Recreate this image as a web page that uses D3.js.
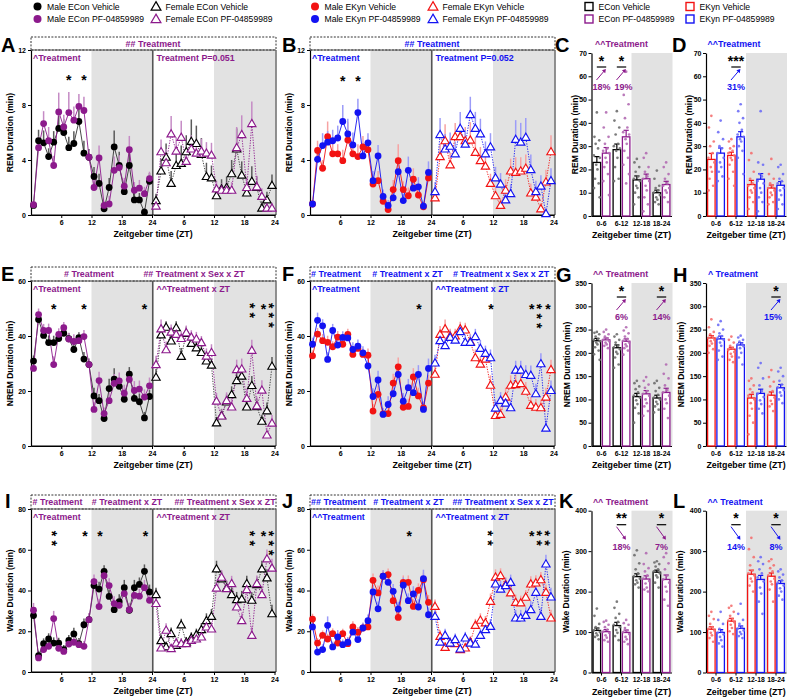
<!DOCTYPE html>
<html><head><meta charset="utf-8">
<script src="https://cdn.jsdelivr.net/npm/d3@7"></script>
<style>body{margin:0;background:#fff}</style>
</head><body><script>
// ---------------- DATA ----------------
const ZT = d3.range(24).map(i => i + 0.5);
const XTICKS = [6, 12, 18, 24];
const BAR_CATS = ["0-6", "6-12", "12-18", "18-24"];

// Panel A: REM, ECon (male circles left half, female triangles right half)
const A_MV = [0.7,5.4,5.25,4.25,5.3,6.3,6.0,4.9,5.2,6.8,4.5,4.2,2.8,2.3,0.45,2.0,4.95,3.6,1.7,3.6,1.1,1.1,0.2,2.45];
const A_MP = [0.75,4.9,6.65,5.4,3.6,7.5,6.4,7.45,6.9,7.9,7.6,4.2,2.0,4.15,0.7,0.8,3.25,3.45,2.1,4.75,1.8,1.95,1.55,2.65];
const A_FV = [1.05,3.2,4.2,2.3,3.6,3.75,4.6,5.35,5.2,4.4,2.8,2.7,1.4,1.9,2.0,3.0,4.8,2.9,1.6,2.45,2.0,0.5,1.1,2.15];
const A_FP = [0.65,4.6,3.8,5.9,4.65,5.65,3.9,4.8,4.5,4.65,4.5,4.35,1.9,1.8,1.8,1.8,4.9,5.85,2.0,6.65,2.05,1.35,0.5,0.5];
const A_MVe = [0.2,0.8,0.9,0.6,0.8,0.9,1.0,0.8,0.9,1.1,0.9,0.6,0.7,0.7,0.3,0.7,1.2,1.0,0.5,1.0,0.5,0.5,0.3,0.6];
const A_MPe = [0.2,0.8,0.9,1.0,0.7,1.4,0.9,1.5,1.0,0.9,1.0,0.5,0.6,0.9,0.3,0.6,1.0,0.9,0.6,1.0,0.6,0.6,0.5,0.5];
const A_FVe = [0.5,0.9,1.0,0.9,1.1,1.3,1.2,1.6,1.3,1.2,1.0,0.9,0.6,0.7,0.8,1.0,1.5,1.0,0.8,1.1,0.8,0.5,0.6,0.8];
const A_FPe = [0.4,0.9,1.0,1.3,1.0,1.2,0.8,1.0,1.0,0.9,0.8,0.9,0.6,0.5,0.6,0.6,1.5,1.4,0.7,1.6,0.8,0.6,0.4,0.4];

// Panel B: REM, EKyn
const B_MV = [0.8,4.7,3.4,5.7,4.45,4.45,3.95,5.45,4.45,4.25,4.95,4.75,2.25,2.5,1.0,0.4,1.85,3.95,1.85,1.4,2.6,1.45,0.6,2.7];
const B_MP = [0.8,4.05,5.05,5.3,5.4,5.6,6.8,5.9,5.1,7.45,4.3,5.25,2.5,4.3,1.35,0.7,1.25,3.15,1.05,3.25,1.95,2.05,0.65,3.1];
const B_FV = [1.25,4.25,5.4,3.65,5.7,5.7,5.4,5.45,4.55,3.95,3.55,2.3,1.4,0.7,1.8,3.2,3.1,3.2,3.4,1.6,1.3,0.45,2.4,4.6];
const B_FP = [1.7,5.85,4.8,5.0,4.45,6.3,5.15,7.3,6.3,5.9,4.45,4.95,2.7,2.25,1.1,1.55,5.5,5.3,5.65,3.3,1.7,2.1,0.1,2.5];
const B_MVe = [0.2,0.7,0.6,1.1,0.8,0.7,0.8,1.3,0.8,0.9,0.8,0.6,0.6,0.7,0.4,0.3,0.7,1.2,0.6,0.6,0.8,0.6,0.3,0.7];
const B_MPe = [0.2,0.9,0.9,0.8,0.8,0.9,1.2,1.1,0.9,1.0,0.9,0.7,0.7,0.8,0.5,0.4,0.6,1.0,0.5,1.0,0.8,0.7,0.3,0.8];
const B_FVe = [0.6,0.9,1.2,0.9,1.0,1.1,1.0,1.3,1.1,1.0,0.9,0.7,0.6,0.5,0.8,0.9,1.1,1.0,1.0,0.7,0.6,0.4,0.9,1.2];
const B_FPe = [0.7,1.2,1.1,1.0,0.9,1.2,1.0,1.3,1.2,1.1,0.9,1.0,0.8,0.8,0.6,0.7,1.4,1.4,1.4,1.1,0.8,0.8,0.3,0.9];

// Panel E: NREM, ECon
const E_MV = [30.9,46,40.2,37.6,37.6,39.1,41,39,35.1,39.4,31.6,29.6,18.2,16.5,10,20.9,24.3,21.7,17,26.1,17.3,16.1,10.2,18];
const E_MP = [28.2,47.8,42,42,29.6,40.6,43,38.9,38,38.3,39.8,29.6,13.3,23.8,11.8,16.5,22.8,23.7,19.2,24.2,20.2,20.7,17.8,21.9];
const E_FV = [25,40.4,43.2,38.2,43,32.6,40.9,37.3,35.7,34,30.9,29.4,8.4,11,16,18.7,23.8,25.4,14.2,22,14.3,9,12.8,29];
const E_FP = [29.6,42.6,35,41.4,40.6,39.1,41.2,39.6,38.9,37.6,32.7,34,16.3,10.9,16.5,14.2,27.8,28,17.3,34.8,14.6,20.3,4,8.3];
const E_MVe = [2.0,2.0,2.2,2.6,2.5,2.1,2.0,2.1,2.5,2.0,2.6,2.2,3.0,2.4,1.8,3.6,4.0,3.0,3.2,2.6,3.0,3.0,2.2,2.5];
const E_MPe = [2.1,2.2,2.4,2.5,3.0,2.2,2.1,2.3,2.6,2.5,2.4,2.0,2.6,3.2,2.2,3.4,3.4,3.0,3.1,3.0,3.4,3.1,2.8,3.0];
const E_FVe = [3.0,2.6,2.2,2.8,2.4,3.0,2.5,2.5,2.6,2.4,2.5,2.4,2.2,2.5,2.8,3.0,3.4,3.6,3.0,3.5,3.0,2.4,3.0,3.4];
const E_FPe = [3.2,3.4,3.0,2.8,2.8,2.6,2.6,2.5,2.6,2.4,2.8,3.0,3.0,2.4,3.0,3.2,3.6,3.8,3.4,3.8,3.4,3.6,2.6,3.0];

// Panel F: NREM, EKyn
const F_MV = [32.8,40.7,38.3,37.7,36.1,39.6,37,40.6,33.3,35.5,33.3,33,12.7,18.8,11.7,11.8,22.9,28.8,14.1,14.4,25.1,18.2,13.9,22.9];
const F_MP = [37,45.7,43.7,31.5,42,36.7,39.5,39.3,35.1,36.3,33.9,29.1,18,24,11.5,15.1,19,26,16.3,21.2,19.4,26,13.3,28.2];
const F_FV = [26.1,40.6,42.6,40,40,42.6,42.2,37.9,32.1,29.8,31.6,22.1,11.1,11.5,17.8,22.1,22.3,22.7,19.9,14.8,14.1,13.9,17.8,27.8];
const F_FP = [30.2,38.3,36.5,39.5,38.5,41.6,37.7,37.7,39.8,35.5,33.7,32.1,13.8,16.6,15.6,13.9,27.6,27.6,26,25.7,19,29.9,6.5,20.2];
const F_MVe = [2.0,2.2,2.4,2.4,2.0,2.2,2.0,2.0,2.2,2.0,2.2,2.5,2.6,3.2,2.2,2.4,3.4,3.4,2.6,2.8,3.2,3.0,2.4,3.0];
const F_MPe = [2.4,2.8,2.4,2.6,2.4,2.4,2.2,2.2,2.6,2.4,2.4,2.6,3.0,3.4,2.2,3.0,3.4,3.6,3.0,3.2,3.4,3.4,2.6,3.6];
const F_FVe = [3.0,3.0,3.4,2.6,2.6,2.6,2.6,2.8,3.0,2.8,2.8,3.6,2.8,3.0,3.4,3.6,3.8,3.6,3.4,3.0,3.0,3.0,3.4,3.6];
const F_FPe = [3.0,3.2,3.0,2.6,2.6,2.6,2.8,2.8,2.8,3.0,2.8,3.0,2.8,3.0,3.2,3.0,3.4,3.4,3.4,3.6,3.6,3.8,3.0,3.6];

// Panel I: Wake, ECon
const I_MV = [27.7,8,13.9,16.2,14.2,14.2,11,15.5,18.7,13.9,23.2,25.7,42.4,40.7,49.4,37.1,30.6,34.5,41.4,30.3,41.4,43,49.4,39.3];
const I_MP = [30.3,6.9,11,12.6,26.2,11.6,10.1,13.7,14.6,13.4,12.6,25.7,44.4,32.1,47.3,42.4,33.6,32.7,38.5,30.6,37.6,37.2,41.4,35.2];
const I_FV = [38,15.4,12.3,18.8,13.1,23.1,14.6,16.7,18.3,20.8,25.2,27.3,50.6,45.7,41.2,38,35.5,35.8,43.4,35.2,42.9,50.6,46.2,28.6];
const I_FP = [33.6,11.8,20.5,11.5,14.2,13.9,13.9,15.5,16.2,17.2,22.1,21.1,41.2,46.5,40.9,43.4,31.9,25.2,40.4,18,43.4,38,55.5,51];
const I_MVe = [3.0,2.4,2.6,2.8,2.8,2.6,2.2,2.6,3.0,2.8,3.0,3.0,3.6,3.6,3.0,3.4,3.6,3.6,3.8,3.4,3.8,3.4,3.4,3.6];
const I_MPe = [3.6,2.0,2.4,2.6,3.8,2.6,2.2,2.6,2.8,2.6,2.6,3.2,3.4,3.8,3.2,3.6,3.6,3.4,3.6,3.4,3.6,3.6,3.8,3.4];
const I_FVe = [3.4,3.0,2.6,3.0,2.6,3.0,2.6,2.8,3.0,3.2,3.6,3.6,4.0,3.6,3.6,3.6,3.8,4.0,3.8,4.0,3.8,4.0,4.2,4.4];
const I_FPe = [3.6,2.6,3.4,2.4,2.6,2.8,2.6,2.8,2.8,3.0,3.0,3.4,3.8,3.6,3.6,3.8,3.8,4.0,3.8,4.2,4.0,4.2,4.6,4.6];

// Panel J: Wake, EKyn
const J_MV = [26,14.2,18,16.2,18.8,14.2,18.8,13.9,22.1,19.5,21.6,22.1,45,38.8,47,47.8,35,26.8,44,44,32.2,40.1,45.3,34.2];
const J_MP = [22.1,9.8,11,22.9,12.3,17.2,13.4,14.6,19.6,15.9,21.6,25.2,39.3,31,47,44,39.6,30.9,42.6,35,38.3,31.9,45.8,28.1];
const J_FV = [32.2,17.5,12.1,14.2,13.9,11,11.8,14.7,22.9,25.4,24.1,34.7,46.6,47.3,42.9,38.8,34.2,33.9,36.7,43.2,43.7,45.3,39.1,26.5];
const J_FP = [27.3,14.7,18,14.2,15.9,11.3,16.7,14.2,13.7,18,20.8,22.4,43.2,40.7,42.4,44,26.5,26.5,27.8,30.6,39.1,27.3,53,36.8];
const J_MVe = [2.6,2.4,2.4,2.6,2.6,2.4,2.4,2.2,2.8,2.6,2.6,2.8,3.4,3.6,3.0,3.0,3.4,3.2,3.4,3.4,3.6,3.4,3.4,3.6];
const J_MPe = [2.8,2.2,2.6,4.4,2.6,3.4,2.6,2.6,3.0,3.0,2.6,3.0,3.6,3.6,3.0,3.4,3.6,3.6,3.8,3.6,3.8,3.8,4.4,3.6];
const J_FVe = [3.4,3.0,2.6,2.6,2.6,2.6,2.6,2.8,3.2,3.4,3.4,3.8,3.8,3.6,3.6,3.6,3.8,3.6,3.6,3.8,3.8,3.8,3.8,4.0];
const J_FPe = [3.6,3.0,3.2,2.8,3.0,2.8,3.0,3.0,3.0,3.2,3.4,3.6,4.0,4.0,3.8,3.8,4.0,4.0,4.0,4.2,4.2,4.2,4.6,4.6];

// Bar panels: means, SEMs and individual animals per ZT block
const C_V = [23, 28.5, 15.5, 10],   C_Ve = [2.5, 2.4, 1.7, 1.1];
const C_P = [27, 34, 16, 13.5],     C_Pe = [2.4, 2.8, 2.0, 1.4];
const C_Vpts = [[44.5,34,32.5,31,29,26,25,22,20,16,14,12,8],[45,41,38,35,31,30,29,28,25,21,16,15],[24.5,23,21,19,17,16,15,13,12,10,8,5],[19.5,16,13,12,11,10,9,8,7,6,5]];
const C_Ppts = [[44.5,38,34,31,29,28,27,25,23,21,18,15,9],[62,52,48,42,38,36,35,33,31,28,25,22,18,14],[27,25,21,19,17,16,15,13,11,8,5,2],[23,21,18,16,14,13,12,11,10,8,6]];
const D_V = [24.3, 26, 13.5, 12],   D_Ve = [2.6, 1.4, 1.8, 1.3];
const D_P = [27, 34, 15.8, 13.2],   D_Pe = [2.2, 2.2, 2.4, 1.6];
const D_Vpts = [[43,38,32,30,27,25,23,21,19,16,13,11],[33,32,30,29,28,27,26,25,24,22,19,16,13],[27,24,19,16,14,13,12,11,10,8,6,3],[24.5,18,16,14,13,12,11,10,9,8,6,5]];
const D_Ppts = [[41,36,33,30,29,27,25,23,21,19,17,15],[48,45,42,40,37,35,34,33,32,30,28,25,18],[45,23,22,18,17,15,14,12,10,8,6,2],[22,21,18,16,15,14,12,11,9,7,5,3]];
const G_V = [226, 211, 106, 103],   G_Ve = [5, 6, 7, 6];
const G_P = [228, 225, 112, 115],   G_Pe = [4, 5, 7, 9];
const G_Vpts = [[245,243,240,235,230,228,225,222,218,212,205,197,185],[240,235,228,222,215,212,208,202,198,190,175,168],[140,135,128,122,115,108,104,98,90,82,70,50],[140,135,125,118,110,104,100,95,90,85,78,72]];
const G_Ppts = [[250,245,240,235,230,228,225,222,218,215,210],[255,248,242,235,230,226,222,218,214,210,205,196],[148,140,132,125,118,112,108,100,92,85,75,65],[175,155,145,130,120,115,108,100,92,80,60]];
const H_V = [232, 208, 103, 109],   H_Ve = [5, 4, 8, 7];
const H_P = [230, 217, 113, 125],   H_Pe = [6, 5, 9, 7];
const H_Vpts = [[272,255,245,240,235,232,228,225,220,215,208,200],[235,228,222,215,210,206,202,198,192,185,180],[145,140,130,122,115,108,100,92,80,65,50,25],[163,148,138,128,118,110,104,97,90,85,75]];
const H_Ppts = [[268,260,250,242,236,232,228,222,215,205,192,185],[237,233,228,224,220,218,214,210,200,190,175],[178,168,145,130,118,112,105,98,90,80,70],[168,160,150,140,132,126,120,115,108,100,92]];
const K_V = [104, 116, 237, 248],   K_Ve = [6, 8, 7, 5];
const K_P = [101, 99, 231, 230],    K_Pe = [5, 6, 8, 11];
const K_Vpts = [[158,140,120,112,108,104,100,97,92,88,82],[175,160,145,135,125,118,112,105,98,90,80],[302,290,270,255,245,238,232,228,222,218,210],[275,272,268,262,255,250,245,240,235,222,210]];
const K_Ppts = [[128,125,118,112,106,101,98,92,86,80,76],[130,122,118,110,104,100,95,88,82,76,70],[295,268,258,250,240,232,226,220,210,205,200],[295,285,270,255,240,230,222,212,200,180,165]];
const L_V = [107, 127, 243, 238],   L_Ve = [6, 7, 10, 8];
const L_P = [99, 109, 230, 220],    L_Pe = [7, 6, 10, 7];
const L_Vpts = [[150,140,132,120,112,108,104,98,92,85,76],[165,160,150,140,132,128,124,118,110,102,95],[333,305,285,265,252,245,240,232,225,215,200],[280,275,265,258,250,240,232,225,218,205,175]];
const L_Ppts = [[150,130,120,108,102,98,94,88,80,72,64],[170,145,130,120,112,108,104,100,95,90,85],[285,275,268,255,245,235,225,210,195,175,145],[255,250,242,235,228,222,215,208,200,190,180]];

// Legend
const LEGEND_LABELS = [["Male ECon Vehicle","Male ECon PF-04859989"],["Female ECon Vehicle","Female ECon PF-04859989"],
  ["Male EKyn Vehicle","Male EKyn PF-04859989"],["Female EKyn Vehicle","Female EKyn PF-04859989"],
  ["ECon Vehicle","ECon PF-04859989"],["EKyn Vehicle","EKyn PF-04859989"]];

// ---------------- STYLE ----------------
const FONT = "'Liberation Sans', Arial, sans-serif";
const C = {black:"#000000", purple:"#8c1a8c", red:"#f21313", blue:"#1313f2"};
const EC = {black:"#5a5a5a", purple:"#c58bc5", red:"#f6a3a3", blue:"#9c9cf8"};
const DOT = {black:"#6e6e6e", purple:"#b36bb3", red:"#f47070", blue:"#6e6ef6"};
const GRAY = "#e2e2e2";

const svg = d3.select("body").append("svg").attr("width",788).attr("height",697)
  .style("font-family", FONT);

function txt(g, s, x, y, o) {
  o = o || {};
  return g.append("text").attr("x",x).attr("y",y).text(s)
    .attr("font-size", o.size || 9).attr("font-weight", o.weight || "bold")
    .attr("fill", o.fill || "#000").attr("text-anchor", o.anchor || "start");
}
// significance stars; a vertical stack is one text element laid along a vertical baseline
function stars(g, n, x, cy) {
  if (n === 1) { txt(g, "*", x, cy + 7.8, {size:14, anchor:"middle"}); return; }
  g.append("text").attr("x",0).attr("y",0).text("*".repeat(n))
    .attr("font-size",14).attr("font-weight","bold").attr("fill","#000")
    .attr("letter-spacing", 9.6 - 5.45)
    .attr("transform", `translate(${x - 8.1},${cy - 2.7}) rotate(90)`);
}
const triPath = (s) => d3.symbol().type(d3.symbolTriangle).size(s)();

// ---------------- LEGEND ----------------
const legX = [37.5, 156, 315, 433, 589, 690];
const legY = [6.5, 19];
const legShape = ["c","t","c","t","s","s"];
const legCol = [["black","purple"],["black","purple"],["red","blue"],["red","blue"],["black","purple"],["red","blue"]];
LEGEND_LABELS.forEach((pair, ci) => {
  pair.forEach((lab, ri) => {
    const x = legX[ci], y = legY[ri], col = C[legCol[ci][ri]];
    if (legShape[ci] === "c") svg.append("circle").attr("cx",x).attr("cy",y).attr("r",4).attr("fill",col);
    else if (legShape[ci] === "t") svg.append("path").attr("d", triPath(42)).attr("transform",`translate(${x},${y+0.8})`).attr("fill","#fff").attr("stroke",col).attr("stroke-width",1.2);
    else svg.append("rect").attr("x",x-4).attr("y",y-4).attr("width",8).attr("height",8).attr("fill","#fff").attr("stroke",col).attr("stroke-width",1.4);
    txt(svg, lab, x + 9.5, y + 3, {size: 8.6, weight: "normal"});
  });
});

// ---------------- LINE PANELS ----------------
function styleAxis(a) {
  a.selectAll("text").attr("font-size",7).attr("font-weight","bold").attr("font-family",FONT).attr("fill","#000");
  a.selectAll("line").attr("stroke","#000").attr("stroke-width",1);
  a.select(".domain").attr("stroke","#000").attr("stroke-width",1.2);
}

function linePanel(p) {
  const g = svg.append("g");
  const xL = d3.scaleLinear().domain([0,24]).range([p.x0, p.x0+121]);
  const xR = d3.scaleLinear().domain([0,24]).range([p.x0+122.5, p.x0+243.5]);
  const right = p.x0 + 245;
  const y = d3.scaleLinear().domain([0,p.yMax]).range([p.yb,p.yt]);
  [xL, xR].forEach(x => g.append("rect").attr("x",x(12)).attr("y",p.yt).attr("width",x(24)-x(12)+0.8).attr("height",p.yb-p.yt).attr("fill",GRAY));
  g.append("rect").attr("x",p.x0).attr("y",p.hb).attr("width",right-p.x0).attr("height",p.yt-p.hb)
    .attr("fill","none").attr("stroke","#333").attr("stroke-width",1).attr("stroke-dasharray","2,1.4");
  g.append("line").attr("x1",p.x0).attr("x2",right).attr("y1",p.yt).attr("y2",p.yt).attr("stroke","#555").attr("stroke-width",1.6).attr("stroke-dasharray","2,1.4");
  g.append("line").attr("x1",right).attr("x2",right).attr("y1",p.yt).attr("y2",p.yb).attr("stroke","#555").attr("stroke-width",1.3);
  const mid = (xL(24)+xR(0))/2;
  g.append("line").attr("x1",mid).attr("x2",mid).attr("y1",p.yt).attr("y2",p.yb).attr("stroke","#555").attr("stroke-width",1.6);

  const ay = g.append("g").attr("transform",`translate(${p.x0},0)`)
    .call(d3.axisLeft(y).tickValues(p.yTicks).tickSize(3).tickSizeOuter(0).tickPadding(2));
  styleAxis(ay);
  [xL, xR].forEach(x => {
    const ax = g.append("g").attr("transform",`translate(0,${p.yb})`)
      .call(d3.axisBottom(x).tickValues(XTICKS).tickSize(3).tickSizeOuter(0).tickPadding(2));
    styleAxis(ax);
  });
  g.append("line").attr("x1",p.x0).attr("x2",right).attr("y1",p.yb).attr("y2",p.yb).attr("stroke","#000").attr("stroke-width",1.2);

  const series = [
    {v:p.MV, e:p.MVe, c:p.cV, x:xL, sh:"c", dash:null},
    {v:p.MP, e:p.MPe, c:p.cP, x:xL, sh:"c", dash:null},
    {v:p.FV, e:p.FVe, c:p.cV, x:xR, sh:"t", dash:"1.3,1.3"},
    {v:p.FP, e:p.FPe, c:p.cP, x:xR, sh:"t", dash:"1.3,1.3"}
  ];
  series.forEach(s => {
    g.append("g").selectAll("line").data(s.v).join("line")
      .attr("x1",(d,i)=>s.x(ZT[i])).attr("x2",(d,i)=>s.x(ZT[i]))
      .attr("y1",d=>y(d)).attr("y2",(d,i)=>y(d+s.e[i]))
      .attr("stroke",EC[s.c]).attr("stroke-width",1.5);
  });
  series.forEach(s => {
    const line = d3.line().x((d,i)=>s.x(ZT[i])).y(d=>y(d));
    g.append("path").attr("d",line(s.v)).attr("fill","none")
      .attr("stroke", s.c === "black" ? "#333" : C[s.c]).attr("stroke-width",0.9)
      .attr("stroke-dasharray", s.dash);
  });
  [series[0], series[2], series[1], series[3]].forEach(s => {
    const gg = g.append("g");
    if (s.sh === "c") {
      gg.selectAll("circle").data(s.v).join("circle")
        .attr("cx",(d,i)=>s.x(ZT[i])).attr("cy",d=>y(d)).attr("r",3.4).attr("fill",C[s.c]);
    } else {
      gg.selectAll("path").data(s.v).join("path").attr("d",triPath(30))
        .attr("transform",(d,i)=>`translate(${s.x(ZT[i])},${y(d)+0.6})`)
        .attr("fill","#fff").attr("stroke",C[s.c]).attr("stroke-width",1.15);
    }
  });

  // header texts, inner labels
  const hy = (p.hb + p.yt)/2 + 3.2;
  p.header.forEach(h => txt(g, h[0], h[1], hy, {fill:C[p.cP], anchor:"middle", size:8.9}));
  txt(g, p.labL, p.x0+2, p.yt+10.5, {fill:C[p.cP], size:8.9});
  txt(g, p.labR, xR(0)+3, p.yt+10.5, {fill:C[p.cP], size:8.9});
  p.starsL.forEach(s => stars(g, s[1], xL(s[0]), p.starY));
  p.starsR.forEach(s => stars(g, s[1], xR(s[0]), p.starY));
  // titles
  txt(g, p.yTitle, 0, 0, {size:8.5, anchor:"middle"})
    .attr("transform",`translate(${p.x0-18.5},${(p.yt+p.yb)/2}) rotate(-90)`);
  txt(g, "Zeitgeber time (ZT)", p.x0+122, p.yb+22, {size:8.8, anchor:"middle"});
  txt(g, p.letter, p.lx, p.ly, {size:20});
}

const row = [{yt:50, yb:215, hb:37, star:76.7}, {yt:281, yb:446, hb:267, star:305.7}, {yt:509, yb:672, hb:495, star:533.5}];

linePanel({x0:31, ...row[0], starY:row[0].star, yMax:12, yTicks:[0,4,8,12], cV:"black", cP:"purple",
  MV:A_MV, MP:A_MP, FV:A_FV, FP:A_FP, MVe:A_MVe, MPe:A_MPe, FVe:A_FVe, FPe:A_FPe,
  header:[["## Treatment",153]], labL:"^Treatment", labR:"Treatment P=0.051",
  starsL:[[7.5,1],[10.5,1]], starsR:[], yTitle:"REM Duration (min)", letter:"A", lx:1, ly:52});
linePanel({x0:310, ...row[0], starY:78, yMax:12, yTicks:[0,4,8,12], cV:"red", cP:"blue",
  MV:B_MV, MP:B_MP, FV:B_FV, FP:B_FP, MVe:B_MVe, MPe:B_MPe, FVe:B_FVe, FPe:B_FPe,
  header:[["## Treatment",432]], labL:"^Treatment", labR:"Treatment P=0.052",
  starsL:[[6.5,1],[9.5,1]], starsR:[], yTitle:"REM Duration (min)", letter:"B", lx:282, ly:52});
linePanel({x0:31, ...row[1], starY:row[1].star, yMax:60, yTicks:[0,20,40,60], cV:"black", cP:"purple",
  MV:E_MV, MP:E_MP, FV:E_FV, FP:E_FP, MVe:E_MVe, MPe:E_MPe, FVe:E_FVe, FPe:E_FPe,
  header:[["# Treatment",89],["## Treatment x Sex x ZT",194]], labL:"^Treatment", labR:"^^Treatment x ZT",
  starsL:[[4.5,1],[10.5,1],[22.5,1]], starsR:[[19.8,2],[21.8,1],[23.5,3]], yTitle:"NREM Duration (min)", letter:"E", lx:1, ly:281});
linePanel({x0:310, ...row[1], starY:306.5, yMax:60, yTicks:[0,20,40,60], cV:"red", cP:"blue",
  MV:F_MV, MP:F_MP, FV:F_FV, FP:F_FP, MVe:F_MVe, MPe:F_MPe, FVe:F_FVe, FPe:F_FPe,
  header:[["# Treatment",336],["# Treatment x ZT",407.5],["# Treatment x Sex x ZT",501]], labL:"^Treatment", labR:"^^Treatment x ZT",
  starsL:[[21.6,1]], starsR:[[11.6,1],[19.7,1],[21.4,3],[22.9,1]], yTitle:"NREM Duration (min)", letter:"F", lx:282, ly:281});
linePanel({x0:31, ...row[2], starY:row[2].star, yMax:80, yTicks:[0,20,40,60,80], cV:"black", cP:"purple",
  MV:I_MV, MP:I_MP, FV:I_FV, FP:I_FP, MVe:I_MVe, MPe:I_MPe, FVe:I_FVe, FPe:I_FPe,
  header:[["# Treatment",57.5],["# Treatment x ZT",127],["## Treatment x Sex x ZT",225]], labL:"^Treatment", labR:"^^Treatment x ZT",
  starsL:[[4.7,2],[10.7,1],[13.7,1],[22.7,1]], starsR:[[19.8,2],[21.8,1],[23.5,3]], yTitle:"Wake Duration (min)", letter:"I", lx:5, ly:508});
linePanel({x0:310, ...row[2], starY:533.3, yMax:80, yTicks:[0,20,40,60,80], cV:"red", cP:"blue",
  MV:J_MV, MP:J_MP, FV:J_FV, FP:J_FP, MVe:J_MVe, MPe:J_MPe, FVe:J_FVe, FPe:J_FPe,
  header:[["## Treatment",338.5],["# Treatment x ZT",408.5],["## Treatment x Sex x ZT",503]], labL:"^^Treatment", labR:"^^Treatment x ZT",
  starsL:[[19.7,1]], starsR:[[11.6,2],[19.7,1],[21.4,2],[22.9,2]], yTitle:"Wake Duration (min)", letter:"J", lx:282, ly:508});

// ---------------- BAR PANELS ----------------
const JIT = [0,-2.4,2.4,-1.2,1.2,-3,3,-0.6,0.6,-1.8,1.8,-2.8,2.8,0];
function arrowHead(g, x1, y1, x2, y2, col) {
  const a = Math.atan2(y2-y1, x2-x1), L = 3.6, W = 2.2;
  const bx = x2 - L*Math.cos(a), by = y2 - L*Math.sin(a);
  const px = -Math.sin(a)*W, py = Math.cos(a)*W;
  g.append("path").attr("d",`M${x2},${y2}L${bx+px},${by+py}L${bx-px},${by-py}Z`).attr("fill",col);
}
function barPanel(p) {
  const g = svg.append("g");
  const x = d3.scaleBand().domain(BAR_CATS).range([p.x0, p.x0+80]);
  const y = d3.scaleLinear().domain([0,p.yMax]).range([p.yb,p.yt]);
  g.append("rect").attr("x",x("12-18")).attr("y",p.yt).attr("width",p.x0+81-x("12-18")).attr("height",p.yb-p.yt).attr("fill",GRAY);
  const ay = g.append("g").attr("transform",`translate(${p.x0},0)`)
    .call(d3.axisLeft(y).tickValues(p.yTicks).tickSize(3).tickSizeOuter(0).tickPadding(1.5));
  styleAxis(ay);
  const ax = g.append("g").attr("transform",`translate(0,${p.yb})`)
    .call(d3.axisBottom(x).tickSize(3).tickSizeOuter(0).tickPadding(2));
  styleAxis(ax);
  ax.selectAll("text").attr("font-size",6.8);
  const bw = 7.5;
  [[p.V,p.Ve,p.Vpts,p.cV,-4.65],[p.P,p.Pe,p.Ppts,p.cP,4.65]].forEach(([m,e,pts,c,off]) => {
    BAR_CATS.forEach((cat,i) => {
      const cx = x(cat) + x.bandwidth()/2 + off;
      g.append("rect").attr("x",cx-bw/2).attr("y",y(m[i])).attr("width",bw).attr("height",p.yb-y(m[i]))
        .attr("fill","#fff").attr("stroke",C[c]).attr("stroke-width",1.3);
      g.append("line").attr("x1",cx).attr("x2",cx).attr("y1",y(m[i])).attr("y2",y(m[i]+e[i])).attr("stroke",C[c]).attr("stroke-width",1.2);
      g.append("line").attr("x1",cx-2.6).attr("x2",cx+2.6).attr("y1",y(m[i]+e[i])).attr("y2",y(m[i]+e[i])).attr("stroke",C[c]).attr("stroke-width",1.2);
      g.selectAll(null).data(pts[i]).join("circle")
        .attr("cx",(d,k)=>cx+JIT[k%JIT.length]).attr("cy",d=>y(d)).attr("r",1.35)
        .attr("fill",DOT[c]).attr("opacity",0.9);
    });
  });
  const pc = C[p.cP];
  txt(g, p.head, p.hx, p.yt-6, {fill:pc, anchor:"middle", size:8.9});
  p.ann.forEach(a => {
    const gc = x(BAR_CATS[a.g]) + x.bandwidth()/2;
    txt(g, a.s, gc, p.yt+12.5, {size:14, anchor:"middle"});
    g.append("line").attr("x1",gc-4.7).attr("x2",gc+4.7).attr("y1",p.yt+14).attr("y2",p.yt+14).attr("stroke","#000").attr("stroke-width",1.2);
    if (a.up) {
      g.append("line").attr("x1",gc-5).attr("y1",p.yt+27).attr("x2",gc+3.2).attr("y2",p.yt+17.4).attr("stroke",pc).attr("stroke-width",1);
      arrowHead(g, gc-5, p.yt+27, gc+4.4, p.yt+16, pc);
      txt(g, a.t, gc+(a.dx||0), p.yt+37, {fill:pc, anchor:"middle", size:9});
    } else {
      g.append("line").attr("x1",gc-5).attr("y1",p.yt+16).attr("x2",gc+3.4).attr("y2",p.yt+27.6).attr("stroke",pc).attr("stroke-width",1);
      arrowHead(g, gc-5, p.yt+16, gc+4.4, p.yt+29, pc);
      txt(g, a.t, gc+(a.dx||0), p.yt+39, {fill:pc, anchor:"middle", size:9});
    }
  });
  txt(g, p.yTitle, 0, 0, {size:8.5, anchor:"middle"})
    .attr("transform",`translate(${p.x0-p.tOff},${(p.yt+p.yb)/2}) rotate(-90)`);
  txt(g, "Zeitgeber time (ZT)", p.x0+40, p.yb+22, {size:8.8, anchor:"middle"});
  txt(g, p.letter, p.lx, p.ly, {size:20});
}

barPanel({x0:591.5, yt:53, yb:216, yMax:70, yTicks:d3.range(0,71,10), cV:"black", cP:"purple",
  V:C_V, Ve:C_Ve, P:C_P, Pe:C_Pe, Vpts:C_Vpts, Ppts:C_Ppts, head:"^^Treatment", hx:621.5,
  ann:[{g:0,s:"*",t:"18%",up:true},{g:1,s:"*",t:"19%",up:true,dx:2}], yTitle:"REM Duration (min)", tOff:14, letter:"C", lx:555, ly:52});
barPanel({x0:706, yt:53, yb:216, yMax:70, yTicks:d3.range(0,71,10), cV:"red", cP:"blue",
  V:D_V, Ve:D_Ve, P:D_P, Pe:D_Pe, Vpts:D_Vpts, Ppts:D_Ppts, head:"^^Treatment", hx:734,
  ann:[{g:1,s:"***",t:"31%",up:true}], yTitle:"REM Duration (min)", tOff:14, letter:"D", lx:672, ly:52});
barPanel({x0:591.5, yt:283, yb:446, yMax:350, yTicks:d3.range(0,351,50), cV:"black", cP:"purple",
  V:G_V, Ve:G_Ve, P:G_P, Pe:G_Pe, Vpts:G_Vpts, Ppts:G_Ppts, head:"^^ Treatment", hx:620.5,
  ann:[{g:1,s:"*",t:"6%",up:true},{g:3,s:"*",t:"14%",up:true}], yTitle:"NREM Duration (min)", tOff:22, letter:"G", lx:556, ly:282});
barPanel({x0:706, yt:283, yb:446, yMax:350, yTicks:d3.range(0,351,50), cV:"red", cP:"blue",
  V:H_V, Ve:H_Ve, P:H_P, Pe:H_Pe, Vpts:H_Vpts, Ppts:H_Ppts, head:"^ Treatment", hx:733,
  ann:[{g:3,s:"*",t:"15%",up:true,dx:-3}], yTitle:"NREM Duration (min)", tOff:22, letter:"H", lx:673, ly:282});
barPanel({x0:591.5, yt:510.7, yb:672.5, yMax:400, yTicks:d3.range(0,401,100), cV:"black", cP:"purple",
  V:K_V, Ve:K_Ve, P:K_P, Pe:K_Pe, Vpts:K_Vpts, Ppts:K_Ppts, head:"^^ Treatment", hx:620.5,
  ann:[{g:1,s:"**",t:"18%",up:false},{g:3,s:"*",t:"7%",up:false}], yTitle:"Wake Duration (min)", tOff:23, letter:"K", lx:559, ly:508});
barPanel({x0:706, yt:510.7, yb:672.5, yMax:400, yTicks:d3.range(0,401,100), cV:"red", cP:"blue",
  V:L_V, Ve:L_Ve, P:L_P, Pe:L_Pe, Vpts:L_Vpts, Ppts:L_Ppts, head:"^^ Treatment", hx:735,
  ann:[{g:1,s:"*",t:"14%",up:false},{g:3,s:"*",t:"8%",up:false}], yTitle:"Wake Duration (min)", tOff:23, letter:"L", lx:673, ly:508});
</script></body></html>
